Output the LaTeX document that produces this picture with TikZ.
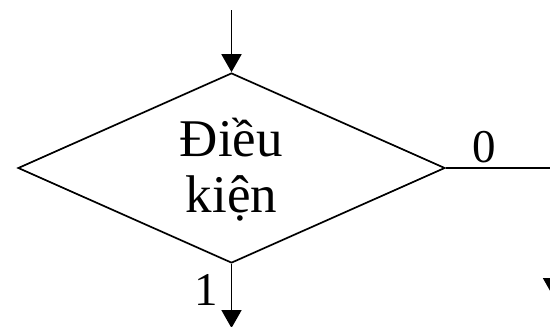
\documentclass[tikz,border=0pt]{standalone}
\usepackage{fontspec}
\setmainfont{Liberation Serif}
\usetikzlibrary{shapes.geometric,arrows.meta}
\begin{document}
\begin{tikzpicture}[x=1pt,y=-1pt,
  flow/.style={line width=1.9pt,-{Triangle[width=20pt,length=18pt]}},
  plain/.style={line width=1.9pt},
  cond/.style={diamond,draw,line width=1.7pt,minimum width=427pt,minimum height=190pt,inner sep=0pt},
  txt/.style={align=center,inner sep=0pt,font=\fontsize{53}{56}\selectfont},
  lbl/.style={font=\fontsize{47}{50}\selectfont,inner sep=0pt,anchor=base}]
\useasboundingbox (0,0) rectangle (550,327);
\clip (0,0) rectangle (550,327);
% decision box and its two-line text
\node[cond] (d) at (231.5,168) {};
\node[txt] (t) at (231.5,170) {Điều\\kiện};
\coordinate (top) at (231.5,10);
\coordinate (bot) at (231.5,328);
\coordinate (corner) at (553,168);
\coordinate (right) at (553,296);
\draw[flow] (top) -- (d.north);
\draw[flow] (d.south) -- (bot);
\draw[plain] (d.east) -- (corner);
\draw[flow] (corner) -- (right);
\node[lbl] (zero) at (484,162) {0};
\node[lbl] (one) at (206,305) {1};
\end{tikzpicture}
\end{document}
